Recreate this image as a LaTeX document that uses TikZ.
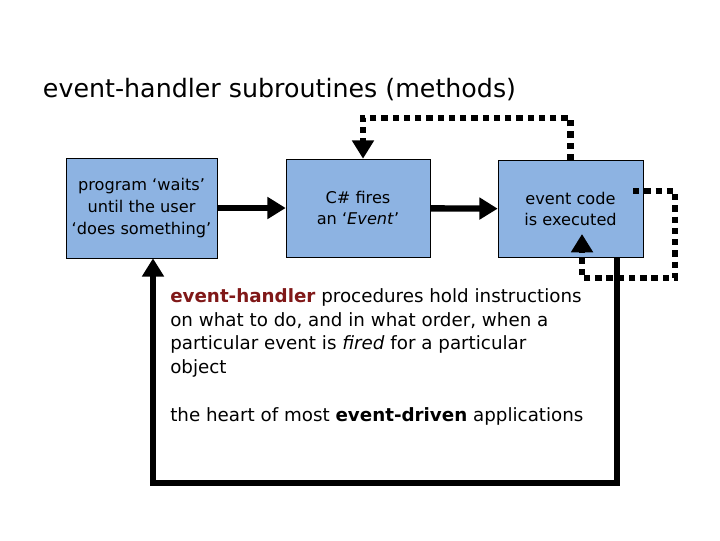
\documentclass[tikz,border=0pt]{standalone}
\usepackage{fontspec}
\setmainfont{DejaVu Sans}
\usetikzlibrary{arrows.meta}

\definecolor{boxblue}{RGB}{141,179,226}
\definecolor{handlerred}{RGB}{128,24,24}

\tikzset{
    stage/.style={draw=black, thin, fill=boxblue, align=center,
        font=\fontsize{11.5}{15.5}\selectfont},
    flow/.style={line width=4.5pt, -{Triangle[length=13pt,width=15pt]}},
    loopback/.style={line width=4.5pt, dash pattern=on 4.5pt off 3.5pt,
        -{Triangle[length=13pt,width=15pt]}},
}

\begin{document}
\begin{tikzpicture}[x=0.025cm, y=-0.025cm]
    % page frame
    \useasboundingbox (0,0) rectangle (720,540);
    
    \node[anchor=base west, font=\fontsize{18}{22}\selectfont] (title) at (38,97)
        {event-handler subroutines (methods)};
    
    % the three stages
    \node[stage, minimum width=3.775cm, minimum height=2.5cm] (wait) at (141.5,208)
        {program ‘waits’\\ until the user\\ ‘does something’};
    \node[stage, minimum width=3.6cm, minimum height=2.45cm] (fire) at (358,208)
        {C\# fires\\ an ‘\textit{Event}’};
    \node[stage, minimum width=3.625cm, minimum height=2.425cm] (exec) at (570.5,209)
        {event code\\ is executed};
    
    \draw[flow] (wait) -- (fire);
    \draw[flow] (fire) -- (exec);
    
    % dotted loops
    \coordinate (topleft) at (363,118);
    \coordinate (rin) at (633,191);
    \coordinate (rcorner) at (675,278);
    \coordinate (rtip) at (582,234);
    \draw[loopback] (exec.north) |- (topleft) -- (topleft |- fire.north);
    \draw[loopback] (rin) -| (rcorner) -| (rtip);
    
    % main loop back to waiting
    \coordinate (bright) at (617,483);
    \coordinate (bleft) at (153,483);
    \draw[line width=4.5pt, -{Triangle[length=13pt,width=15pt]}]
        (exec.south -| bright) -- (bright) -- (bleft) -- (bleft |- wait.south);
    
    \node[anchor=north west, align=left, font=\fontsize{13}{17}\selectfont,
        inner sep=0pt] (notes) at (170,288)
        {\textcolor{handlerred}{\textbf{event-handler}} procedures hold instructions\\
         on what to do, and in what order, when a\\
         particular event is \textit{fired} for a particular\\
         object\\[17pt]
         the heart of most \textbf{event-driven} applications};
\end{tikzpicture}
\end{document}
